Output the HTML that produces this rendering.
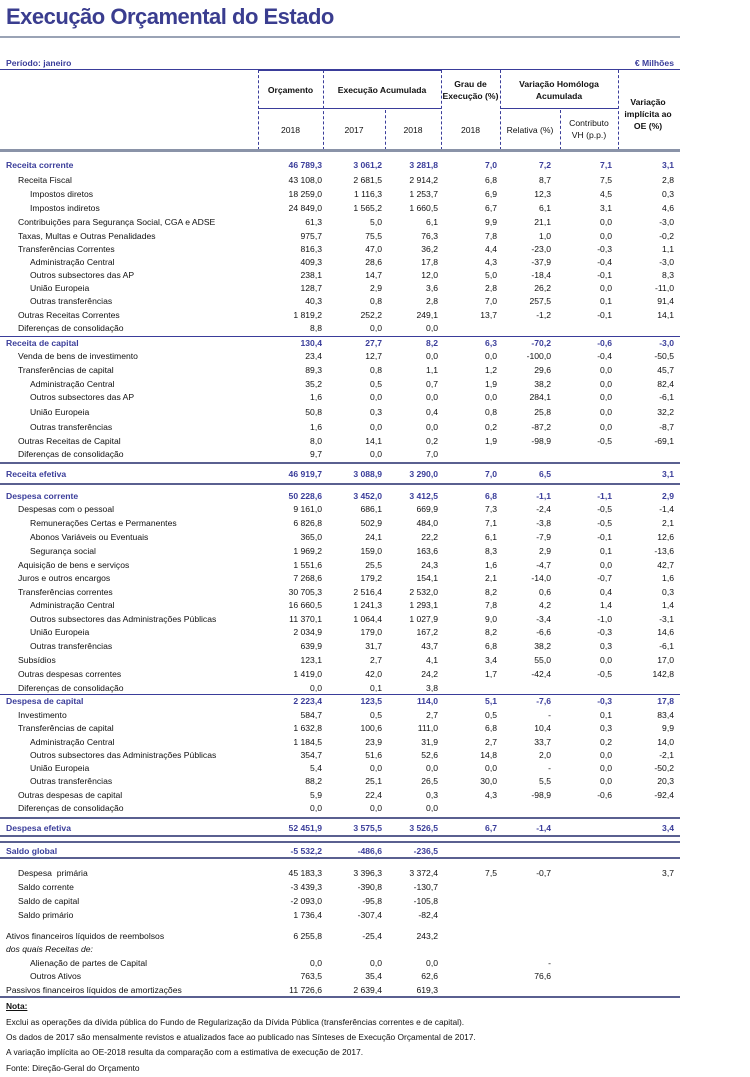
<!DOCTYPE html>
<html><head><meta charset="utf-8"><style>
body{margin:0;width:750px;height:1077px;background:#fff;position:relative;font-family:"Liberation Sans",sans-serif;color:#111;overflow:hidden}
.t{position:absolute;left:6px;top:4px;font-size:22px;font-weight:bold;color:#3a3d8f;letter-spacing:-0.5px}
.hl{position:absolute;background:#8a93a8}
.r{position:absolute;left:0;width:750px;height:12px;line-height:12px;font-size:8.6px;white-space:nowrap}
.r span{position:absolute;text-align:right;width:70px}
.r .l{text-align:left;width:250px}
.b{color:#3a3d9a;font-weight:bold}
.i1 .l{left:18px}.i0 .l{left:6px}.i2 .l{left:30px}
.a{left:252px}.c{left:312px}.d{left:368px}.e{left:427px}.f{left:481px}.g{left:542px}.h{left:604px}
.vl{position:absolute;border-left:1px dashed #3a3d9a;width:0}
.hd{position:absolute;font-size:8.6px;font-weight:bold;text-align:center;line-height:12px}
.hn{position:absolute;font-size:8.6px;text-align:center;line-height:12px}
.n{position:absolute;left:6px;font-size:8.4px;white-space:nowrap}
</style></head><body>
<div class="t">Execução Orçamental do Estado</div>
<div class="hl" style="left:0;top:36px;width:680px;height:2px;background:#9aa3b5"></div>
<div class="r b" style="top:57px"><span class="l" style="left:6px;font-weight:bold">Período: janeiro</span><span style="left:604px">€ Milhões</span></div>
<div class="hl" style="left:0;top:69px;width:680px;height:1px;background:#3a3d9a"></div>
<div class="hl" style="left:258px;top:69px;width:183px;height:2px;background:#3a3d9a"></div>
<div class="vl" style="left:258px;top:70px;height:80px"></div>
<div class="vl" style="left:323px;top:70px;height:80px"></div>
<div class="vl" style="left:385px;top:110px;height:40px"></div>
<div class="vl" style="left:441px;top:70px;height:80px"></div>
<div class="vl" style="left:500px;top:70px;height:80px"></div>
<div class="vl" style="left:560px;top:110px;height:40px"></div>
<div class="vl" style="left:618px;top:70px;height:80px"></div>
<div class="hl" style="left:258px;top:108px;width:183px;height:1px;background:#3a3d9a"></div>
<div class="hl" style="left:500px;top:108px;width:118px;height:1px;background:#3a3d9a"></div>
<div class="hd" style="left:258px;top:84px;width:65px">Orçamento</div>
<div class="hd" style="left:323px;top:84px;width:118px">Execução Acumulada</div>
<div class="hd" style="left:441px;top:78px;width:59px">Grau de<br>Execução (%)</div>
<div class="hd" style="left:500px;top:78px;width:118px">Variação Homóloga<br>Acumulada</div>
<div class="hd" style="left:618px;top:96px;width:60px">Variação<br>implícita ao<br>OE (%)</div>
<div class="hn" style="left:258px;top:124px;width:65px">2018</div>
<div class="hn" style="left:323px;top:124px;width:62px">2017</div>
<div class="hn" style="left:385px;top:124px;width:56px">2018</div>
<div class="hn" style="left:441px;top:124px;width:59px">2018</div>
<div class="hn" style="left:500px;top:124px;width:60px">Relativa (%)</div>
<div class="hn" style="left:560px;top:117px;width:58px">Contributo<br>VH (p.p.)</div>
<div class="hl" style="left:0;top:149px;width:680px;height:3px;background:#8a93a8"></div>

<div class="r b i0" style="top:159px"><span class="l">Receita corrente</span><span class="a">46 789,3</span><span class="c">3 061,2</span><span class="d">3 281,8</span><span class="e">7,0</span><span class="f">7,2</span><span class="g">7,1</span><span class="h">3,1</span></div>
<div class="r i1" style="top:174px"><span class="l">Receita Fiscal</span><span class="a">43 108,0</span><span class="c">2 681,5</span><span class="d">2 914,2</span><span class="e">6,8</span><span class="f">8,7</span><span class="g">7,5</span><span class="h">2,8</span></div>
<div class="r i2" style="top:188px"><span class="l">Impostos diretos</span><span class="a">18 259,0</span><span class="c">1 116,3</span><span class="d">1 253,7</span><span class="e">6,9</span><span class="f">12,3</span><span class="g">4,5</span><span class="h">0,3</span></div>
<div class="r i2" style="top:202px"><span class="l">Impostos indiretos</span><span class="a">24 849,0</span><span class="c">1 565,2</span><span class="d">1 660,5</span><span class="e">6,7</span><span class="f">6,1</span><span class="g">3,1</span><span class="h">4,6</span></div>
<div class="r i1" style="top:216px"><span class="l">Contribuições para Segurança Social, CGA e ADSE</span><span class="a">61,3</span><span class="c">5,0</span><span class="d">6,1</span><span class="e">9,9</span><span class="f">21,1</span><span class="g">0,0</span><span class="h">-3,0</span></div>
<div class="r i1" style="top:230px"><span class="l">Taxas, Multas e Outras Penalidades</span><span class="a">975,7</span><span class="c">75,5</span><span class="d">76,3</span><span class="e">7,8</span><span class="f">1,0</span><span class="g">0,0</span><span class="h">-0,2</span></div>
<div class="r i1" style="top:243px"><span class="l">Transferências Correntes</span><span class="a">816,3</span><span class="c">47,0</span><span class="d">36,2</span><span class="e">4,4</span><span class="f">-23,0</span><span class="g">-0,3</span><span class="h">1,1</span></div>
<div class="r i2" style="top:256px"><span class="l">Administração Central</span><span class="a">409,3</span><span class="c">28,6</span><span class="d">17,8</span><span class="e">4,3</span><span class="f">-37,9</span><span class="g">-0,4</span><span class="h">-3,0</span></div>
<div class="r i2" style="top:269px"><span class="l">Outros subsectores das AP</span><span class="a">238,1</span><span class="c">14,7</span><span class="d">12,0</span><span class="e">5,0</span><span class="f">-18,4</span><span class="g">-0,1</span><span class="h">8,3</span></div>
<div class="r i2" style="top:282px"><span class="l">União Europeia</span><span class="a">128,7</span><span class="c">2,9</span><span class="d">3,6</span><span class="e">2,8</span><span class="f">26,2</span><span class="g">0,0</span><span class="h">-11,0</span></div>
<div class="r i2" style="top:295px"><span class="l">Outras transferências</span><span class="a">40,3</span><span class="c">0,8</span><span class="d">2,8</span><span class="e">7,0</span><span class="f">257,5</span><span class="g">0,1</span><span class="h">91,4</span></div>
<div class="r i1" style="top:309px"><span class="l">Outras Receitas Correntes</span><span class="a">1 819,2</span><span class="c">252,2</span><span class="d">249,1</span><span class="e">13,7</span><span class="f">-1,2</span><span class="g">-0,1</span><span class="h">14,1</span></div>
<div class="r i1" style="top:322px"><span class="l">Diferenças de consolidação</span><span class="a">8,8</span><span class="c">0,0</span><span class="d">0,0</span></div>
<div class="hl" style="left:0;top:336px;width:680px;height:1px;background:#3a3d9a"></div>
<div class="r b i0" style="top:337px"><span class="l">Receita de capital</span><span class="a">130,4</span><span class="c">27,7</span><span class="d">8,2</span><span class="e">6,3</span><span class="f">-70,2</span><span class="g">-0,6</span><span class="h">-3,0</span></div>
<div class="r i1" style="top:350px"><span class="l">Venda de bens de investimento</span><span class="a">23,4</span><span class="c">12,7</span><span class="d">0,0</span><span class="e">0,0</span><span class="f">-100,0</span><span class="g">-0,4</span><span class="h">-50,5</span></div>
<div class="r i1" style="top:364px"><span class="l">Transferências de capital</span><span class="a">89,3</span><span class="c">0,8</span><span class="d">1,1</span><span class="e">1,2</span><span class="f">29,6</span><span class="g">0,0</span><span class="h">45,7</span></div>
<div class="r i2" style="top:378px"><span class="l">Administração Central</span><span class="a">35,2</span><span class="c">0,5</span><span class="d">0,7</span><span class="e">1,9</span><span class="f">38,2</span><span class="g">0,0</span><span class="h">82,4</span></div>
<div class="r i2" style="top:391px"><span class="l">Outros subsectores das AP</span><span class="a">1,6</span><span class="c">0,0</span><span class="d">0,0</span><span class="e">0,0</span><span class="f">284,1</span><span class="g">0,0</span><span class="h">-6,1</span></div>
<div class="r i2" style="top:406px"><span class="l">União Europeia</span><span class="a">50,8</span><span class="c">0,3</span><span class="d">0,4</span><span class="e">0,8</span><span class="f">25,8</span><span class="g">0,0</span><span class="h">32,2</span></div>
<div class="r i2" style="top:421px"><span class="l">Outras transferências</span><span class="a">1,6</span><span class="c">0,0</span><span class="d">0,0</span><span class="e">0,2</span><span class="f">-87,2</span><span class="g">0,0</span><span class="h">-8,7</span></div>
<div class="r i1" style="top:435px"><span class="l">Outras Receitas de Capital</span><span class="a">8,0</span><span class="c">14,1</span><span class="d">0,2</span><span class="e">1,9</span><span class="f">-98,9</span><span class="g">-0,5</span><span class="h">-69,1</span></div>
<div class="r i1" style="top:448px"><span class="l">Diferenças de consolidação</span><span class="a">9,7</span><span class="c">0,0</span><span class="d">7,0</span></div>
<div class="hl" style="left:0;top:462px;width:680px;height:2px;background:#5a6090"></div>
<div class="r b i0" style="top:468px"><span class="l">Receita efetiva</span><span class="a">46 919,7</span><span class="c">3 088,9</span><span class="d">3 290,0</span><span class="e">7,0</span><span class="f">6,5</span><span class="h">3,1</span></div>
<div class="hl" style="left:0;top:483px;width:680px;height:2px;background:#5a6090"></div>
<div class="r b i0" style="top:490px"><span class="l">Despesa corrente</span><span class="a">50 228,6</span><span class="c">3 452,0</span><span class="d">3 412,5</span><span class="e">6,8</span><span class="f">-1,1</span><span class="g">-1,1</span><span class="h">2,9</span></div>
<div class="r i1" style="top:503px"><span class="l">Despesas com o pessoal</span><span class="a">9 161,0</span><span class="c">686,1</span><span class="d">669,9</span><span class="e">7,3</span><span class="f">-2,4</span><span class="g">-0,5</span><span class="h">-1,4</span></div>
<div class="r i2" style="top:517px"><span class="l">Remunerações Certas e Permanentes</span><span class="a">6 826,8</span><span class="c">502,9</span><span class="d">484,0</span><span class="e">7,1</span><span class="f">-3,8</span><span class="g">-0,5</span><span class="h">2,1</span></div>
<div class="r i2" style="top:531px"><span class="l">Abonos Variáveis ou Eventuais</span><span class="a">365,0</span><span class="c">24,1</span><span class="d">22,2</span><span class="e">6,1</span><span class="f">-7,9</span><span class="g">-0,1</span><span class="h">12,6</span></div>
<div class="r i2" style="top:545px"><span class="l">Segurança social</span><span class="a">1 969,2</span><span class="c">159,0</span><span class="d">163,6</span><span class="e">8,3</span><span class="f">2,9</span><span class="g">0,1</span><span class="h">-13,6</span></div>
<div class="r i1" style="top:559px"><span class="l">Aquisição de bens e serviços</span><span class="a">1 551,6</span><span class="c">25,5</span><span class="d">24,3</span><span class="e">1,6</span><span class="f">-4,7</span><span class="g">0,0</span><span class="h">42,7</span></div>
<div class="r i1" style="top:572px"><span class="l">Juros e outros encargos</span><span class="a">7 268,6</span><span class="c">179,2</span><span class="d">154,1</span><span class="e">2,1</span><span class="f">-14,0</span><span class="g">-0,7</span><span class="h">1,6</span></div>
<div class="r i1" style="top:586px"><span class="l">Transferências correntes</span><span class="a">30 705,3</span><span class="c">2 516,4</span><span class="d">2 532,0</span><span class="e">8,2</span><span class="f">0,6</span><span class="g">0,4</span><span class="h">0,3</span></div>
<div class="r i2" style="top:599px"><span class="l">Administração Central</span><span class="a">16 660,5</span><span class="c">1 241,3</span><span class="d">1 293,1</span><span class="e">7,8</span><span class="f">4,2</span><span class="g">1,4</span><span class="h">1,4</span></div>
<div class="r i2" style="top:613px"><span class="l">Outros subsectores das Administrações Públicas</span><span class="a">11 370,1</span><span class="c">1 064,4</span><span class="d">1 027,9</span><span class="e">9,0</span><span class="f">-3,4</span><span class="g">-1,0</span><span class="h">-3,1</span></div>
<div class="r i2" style="top:626px"><span class="l">União Europeia</span><span class="a">2 034,9</span><span class="c">179,0</span><span class="d">167,2</span><span class="e">8,2</span><span class="f">-6,6</span><span class="g">-0,3</span><span class="h">14,6</span></div>
<div class="r i2" style="top:640px"><span class="l">Outras transferências</span><span class="a">639,9</span><span class="c">31,7</span><span class="d">43,7</span><span class="e">6,8</span><span class="f">38,2</span><span class="g">0,3</span><span class="h">-6,1</span></div>
<div class="r i1" style="top:654px"><span class="l">Subsídios</span><span class="a">123,1</span><span class="c">2,7</span><span class="d">4,1</span><span class="e">3,4</span><span class="f">55,0</span><span class="g">0,0</span><span class="h">17,0</span></div>
<div class="r i1" style="top:668px"><span class="l">Outras despesas correntes</span><span class="a">1 419,0</span><span class="c">42,0</span><span class="d">24,2</span><span class="e">1,7</span><span class="f">-42,4</span><span class="g">-0,5</span><span class="h">142,8</span></div>
<div class="r i1" style="top:682px"><span class="l">Diferenças de consolidação</span><span class="a">0,0</span><span class="c">0,1</span><span class="d">3,8</span></div>
<div class="hl" style="left:0;top:694px;width:680px;height:1px;background:#3a3d9a"></div>
<div class="r b i0" style="top:695px"><span class="l">Despesa de capital</span><span class="a">2 223,4</span><span class="c">123,5</span><span class="d">114,0</span><span class="e">5,1</span><span class="f">-7,6</span><span class="g">-0,3</span><span class="h">17,8</span></div>
<div class="r i1" style="top:709px"><span class="l">Investimento</span><span class="a">584,7</span><span class="c">0,5</span><span class="d">2,7</span><span class="e">0,5</span><span class="f">-</span><span class="g">0,1</span><span class="h">83,4</span></div>
<div class="r i1" style="top:722px"><span class="l">Transferências de capital</span><span class="a">1 632,8</span><span class="c">100,6</span><span class="d">111,0</span><span class="e">6,8</span><span class="f">10,4</span><span class="g">0,3</span><span class="h">9,9</span></div>
<div class="r i2" style="top:736px"><span class="l">Administração Central</span><span class="a">1 184,5</span><span class="c">23,9</span><span class="d">31,9</span><span class="e">2,7</span><span class="f">33,7</span><span class="g">0,2</span><span class="h">14,0</span></div>
<div class="r i2" style="top:749px"><span class="l">Outros subsectores das Administrações Públicas</span><span class="a">354,7</span><span class="c">51,6</span><span class="d">52,6</span><span class="e">14,8</span><span class="f">2,0</span><span class="g">0,0</span><span class="h">-2,1</span></div>
<div class="r i2" style="top:762px"><span class="l">União Europeia</span><span class="a">5,4</span><span class="c">0,0</span><span class="d">0,0</span><span class="e">0,0</span><span class="f">-</span><span class="g">0,0</span><span class="h">-50,2</span></div>
<div class="r i2" style="top:775px"><span class="l">Outras transferências</span><span class="a">88,2</span><span class="c">25,1</span><span class="d">26,5</span><span class="e">30,0</span><span class="f">5,5</span><span class="g">0,0</span><span class="h">20,3</span></div>
<div class="r i1" style="top:789px"><span class="l">Outras despesas de capital</span><span class="a">5,9</span><span class="c">22,4</span><span class="d">0,3</span><span class="e">4,3</span><span class="f">-98,9</span><span class="g">-0,6</span><span class="h">-92,4</span></div>
<div class="r i1" style="top:802px"><span class="l">Diferenças de consolidação</span><span class="a">0,0</span><span class="c">0,0</span><span class="d">0,0</span></div>
<div class="hl" style="left:0;top:817px;width:680px;height:2px;background:#5a6090"></div>
<div class="r b i0" style="top:822px"><span class="l">Despesa efetiva</span><span class="a">52 451,9</span><span class="c">3 575,5</span><span class="d">3 526,5</span><span class="e">6,7</span><span class="f">-1,4</span><span class="h">3,4</span></div>
<div class="hl" style="left:0;top:835px;width:680px;height:2px;background:#5a6090"></div>
<div class="hl" style="left:0;top:841px;width:680px;height:2px;background:#5a6090"></div>
<div class="r b i0" style="top:845px"><span class="l">Saldo global</span><span class="a">-5 532,2</span><span class="c">-486,6</span><span class="d">-236,5</span></div>
<div class="hl" style="left:0;top:857px;width:680px;height:2px;background:#5a6090"></div>
<div class="r i1" style="top:867px"><span class="l">Despesa&nbsp; primária</span><span class="a">45 183,3</span><span class="c">3 396,3</span><span class="d">3 372,4</span><span class="e">7,5</span><span class="f">-0,7</span><span class="h">3,7</span></div>
<div class="r i1" style="top:881px"><span class="l">Saldo corrente</span><span class="a">-3 439,3</span><span class="c">-390,8</span><span class="d">-130,7</span></div>
<div class="r i1" style="top:895px"><span class="l">Saldo de capital</span><span class="a">-2 093,0</span><span class="c">-95,8</span><span class="d">-105,8</span></div>
<div class="r i1" style="top:909px"><span class="l">Saldo primário</span><span class="a">1 736,4</span><span class="c">-307,4</span><span class="d">-82,4</span></div>
<div class="r i0" style="top:930px"><span class="l">Ativos financeiros líquidos de reembolsos</span><span class="a">6 255,8</span><span class="c">-25,4</span><span class="d">243,2</span></div>
<div class="r i0" style="top:943px"><span class="l" style="font-style:italic">dos quais Receitas de:</span></div>
<div class="r i2" style="top:957px"><span class="l">Alienação de partes de Capital</span><span class="a">0,0</span><span class="c">0,0</span><span class="d">0,0</span><span class="f">-</span></div>
<div class="r i2" style="top:970px"><span class="l">Outros Ativos</span><span class="a">763,5</span><span class="c">35,4</span><span class="d">62,6</span><span class="f">76,6</span></div>
<div class="r i0" style="top:984px"><span class="l">Passivos financeiros líquidos de amortizações</span><span class="a">11 726,6</span><span class="c">2 639,4</span><span class="d">619,3</span></div>
<div class="hl" style="left:0;top:996px;width:680px;height:2px;background:#5a6090"></div>
<div class="n" style="top:1001px;font-weight:bold;text-decoration:underline">Nota:</div>
<div class="n" style="top:1017px">Exclui as operações da dívida pública do Fundo de Regularização da Dívida Pública (transferências correntes e de capital).</div>
<div class="n" style="top:1032px">Os dados de 2017 são mensalmente revistos e atualizados face ao publicado nas Sínteses de Execução Orçamental de 2017.</div>
<div class="n" style="top:1047px">A variação implícita ao OE-2018 resulta da comparação com a estimativa de execução de 2017.</div>
<div class="n" style="top:1063px">Fonte: Direção-Geral do Orçamento</div>
</body></html>
